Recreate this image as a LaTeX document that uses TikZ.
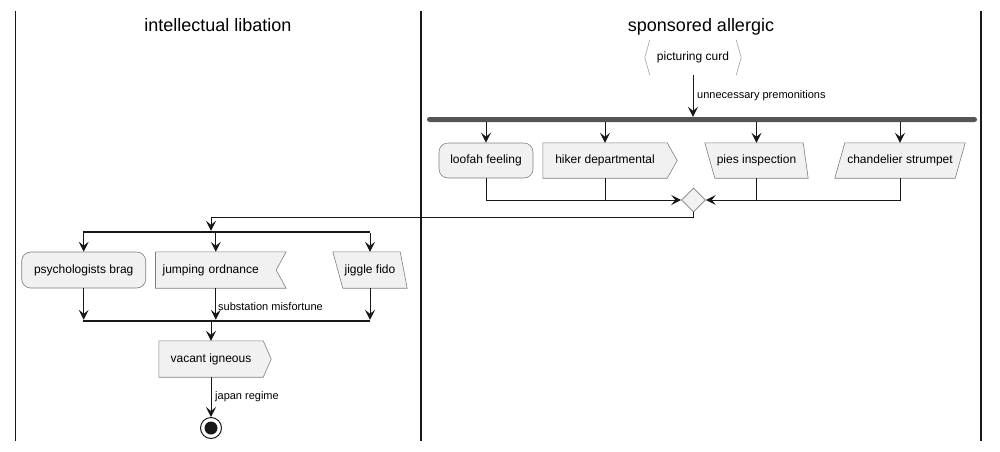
\documentclass[tikz,border=0pt]{standalone}
\usepackage{fontspec}
\setmainfont{Liberation Sans}
\usetikzlibrary{arrows.meta,calc,shapes.geometric}
\definecolor{boxfill}{HTML}{F1F1F1}
\definecolor{boxline}{HTML}{7F7F7F}
\definecolor{hexline}{HTML}{A0A0A0}
\definecolor{barcol}{HTML}{555555}
\definecolor{ink}{HTML}{181818}
\pgfdeclarelayer{bg}
\pgfsetlayers{bg,main}
\begin{document}
\begin{tikzpicture}[x=1pt,y=-1pt,
  lane/.style={line width=1.4pt, draw=ink},
  title/.style={font=\fontsize{18}{20}\selectfont, inner sep=0pt, anchor=base},
  txt/.style={font=\fontsize{12}{14}\selectfont, inner sep=0pt},
  lbl/.style={font=\fontsize{11}{13}\selectfont, inner sep=0pt, anchor=base west},
  outline/.style={draw=boxline, fill=boxfill, line width=0.6pt},
  arr/.style={draw=ink, line width=1pt, -{Stealth[length=10pt,width=10pt,inset=4pt]}},
  link/.style={draw=ink, line width=1pt},
  box/.style={txt, minimum height=35pt},
  box2/.style={txt, minimum height=36pt},
  fbar/.style={fill=barcol, rounded corners=2.5pt, inner sep=0pt, minimum height=5pt},
  tbar/.style={fill=ink, inner sep=0pt, minimum height=2pt},
]
\useasboundingbox (0,0) rectangle (1000,451);

% swimlanes
\draw[lane] (15.5,11) -- (15.5,441);
\draw[lane] (421,11) -- (421,441);
\draw[lane] (981,11) -- (981,441);
\node[title] (t1) at (218,31) {intellectual libation};
\node[title] (t2) at (701,31) {sponsored allergic};

% right lane
\node[box, minimum width=96pt] (curd) at (693,57.5) {picturing curd};
\draw[draw=hexline, line width=0.6pt] ($(curd.north west)+(5,0)$) -- (curd.west) -- ($(curd.south west)+(5,0)$);
\draw[draw=hexline, line width=0.6pt] ($(curd.north east)+(-5,0)$) -- (curd.east) -- ($(curd.south east)+(-5,0)$);

\node[fbar, minimum width=550pt] (bar1) at (702,119.5) {};
\draw[arr] (curd.south) -- (curd.south |- bar1.north);
\node[lbl] (l1) at (697,98.5) {unnecessary premonitions};

\node[box, outline, rounded corners=9pt, minimum width=94pt] (loofah) at (486,160.5) {loofah feeling};
\node[box, minimum width=124pt] (hiker) at (605,160.5) {hiker departmental};
\node[box, minimum width=103pt] (pies) at (756.5,160.5) {pies inspection};
\node[box, minimum width=130pt] (chand) at (900,160.5) {chandelier strumpet};
\begin{pgfonlayer}{bg}
\draw[outline] (hiker.north west) -- (hiker.north east) -- ($(hiker.east)+(10,0)$) -- (hiker.south east) -- (hiker.south west) -- cycle;
\draw[outline] (pies.north west) -- ($(pies.north east)+(-5,0)$) -- (pies.south east) -- ($(pies.south west)+(10,0)$) -- cycle;
\draw[outline] ($(chand.north west)+(10,0)$) -- (chand.north east) -- ($(chand.south east)+(-10,0)$) -- (chand.south west) -- cycle;
\end{pgfonlayer}

\draw[arr] (bar1.south -| loofah.north) -- (loofah.north);
\draw[arr] (bar1.south -| hiker.north) -- (hiker.north);
\draw[arr] (bar1.south -| pies.north) -- (pies.north);
\draw[arr] (bar1.south -| chand.north) -- (chand.north);

\node[diamond, outline, minimum size=24pt, inner sep=0pt] (merge) at (693.5,200) {};
\draw[arr] (loofah.south) |- (merge.west);
\draw[link] (hiker.south) -- (hiker.south |- merge.west);
\draw[arr] (chand.south) |- (merge.east);
\draw[link] (pies.south) -- (pies.south |- merge.east);

% left lane
\node[tbar, minimum width=287pt] (bar2) at (226.5,232) {};
\node[box2, outline, rounded corners=9pt, minimum width=124pt] (psych) at (83.7,270) {psychologists brag};
\node[box2, minimum width=120.3pt, text width=106.3pt, inner xsep=7pt, align=left] (jump) at (215.8,270) {jumping ordnance};
\node[box2, minimum width=74pt] (jig) at (370,270) {jiggle fido};
\node[tbar, minimum width=287pt] (bar3) at (226.5,321) {};
\node[box2, minimum width=104pt] (vacant) at (211,359) {vacant igneous};
\begin{pgfonlayer}{bg}
\draw[outline] (jump.north west) -- ($(jump.north east)+(10,0)$) -- (jump.east) -- ($(jump.south east)+(10,0)$) -- (jump.south west) -- cycle;
\draw[outline] (jig.north west) -- ($(jig.north east)+(-7,0)$) -- (jig.south east) -- ($(jig.south west)+(10,0)$) -- cycle;
\draw[outline] (vacant.north west) -- (vacant.north east) -- ($(vacant.east)+(8,0)$) -- (vacant.south east) -- (vacant.south west) -- cycle;
\end{pgfonlayer}

\coordinate (b2in) at (vacant.north |- bar2.north);
\draw[arr] (merge.south) -- ++(0,5.5) -| (b2in);

\draw[arr] (bar2.south -| psych.north) -- (psych.north);
\draw[arr] (bar2.south -| jump.north) -- (jump.north);
\draw[arr] (bar2.south -| jig.north) -- (jig.north);

\draw[arr] (psych.south) -- (psych.south |- bar3.north);
\draw[arr] (jump.south) -- (jump.south |- bar3.north);
\draw[arr] (jig.south) -- (jig.south |- bar3.north);
\node[lbl] (l2) at (218,310) {substation misfortune};

\draw[arr] (vacant.north |- bar3.south) -- (vacant.north);

\node[circle, draw=ink, line width=1pt, minimum size=21pt, inner sep=0pt] (stop) at (211,428) {};
\node[circle, fill=ink, minimum size=13pt, inner sep=0pt] (stopdot) at (stop.center) {};
\draw[arr] (vacant.south) -- (stop.north);
\node[lbl] (l3) at (215,399) {japan regime};
\end{tikzpicture}
\end{document}
